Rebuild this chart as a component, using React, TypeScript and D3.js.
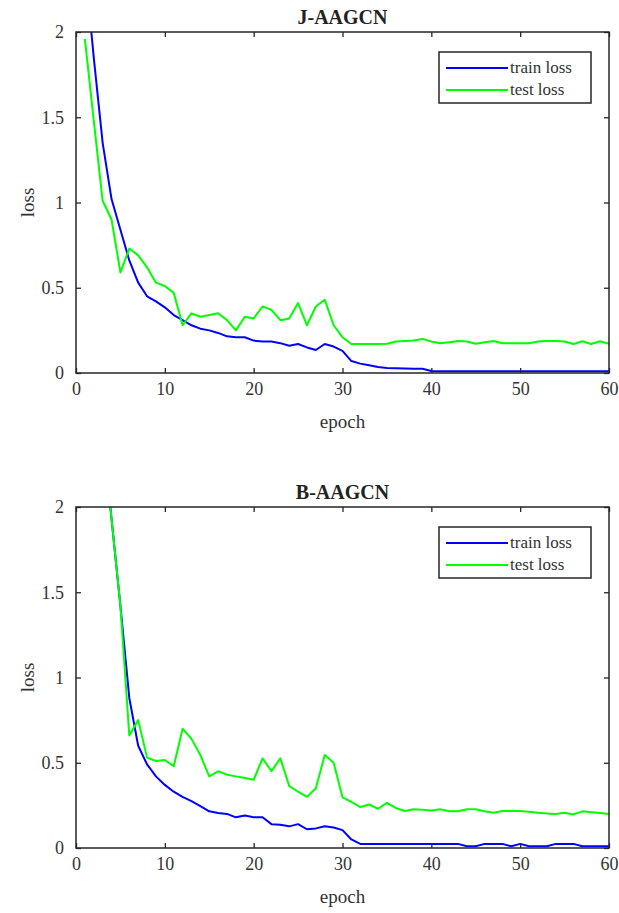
import React, { useRef, useEffect } from 'react';
import * as d3 from 'd3';

const epochs = d3.range(1, 61);

const jTrain = [
  2.4, 1.85, 1.35, 1.02, 0.84, 0.66, 0.53, 0.45, 0.42, 0.385,
  0.34, 0.31, 0.28, 0.26, 0.25, 0.235, 0.215, 0.21, 0.21, 0.19,
  0.185, 0.185, 0.175, 0.16, 0.17, 0.15, 0.135, 0.17, 0.155, 0.13,
  0.07, 0.055, 0.045, 0.035, 0.03, 0.028, 0.026, 0.025, 0.025, 0.012,
  0.01, 0.01, 0.01, 0.01, 0.01, 0.01, 0.01, 0.01, 0.01, 0.01,
  0.01, 0.01, 0.01, 0.01, 0.01, 0.01, 0.01, 0.01, 0.01, 0.01,
];
const jTest = [
  1.96, 1.48, 1.01, 0.9, 0.59, 0.73, 0.69, 0.62, 0.53, 0.51,
  0.47, 0.28, 0.35, 0.33, 0.34, 0.35, 0.31, 0.25, 0.33, 0.32,
  0.39, 0.37, 0.31, 0.32, 0.41, 0.28, 0.39, 0.43, 0.28, 0.21,
  0.17, 0.17, 0.17, 0.17, 0.172, 0.185, 0.188, 0.19, 0.2, 0.185,
  0.174, 0.18, 0.188, 0.185, 0.172, 0.18, 0.188, 0.175, 0.174, 0.174,
  0.174, 0.185, 0.188, 0.188, 0.185, 0.17, 0.186, 0.17, 0.186, 0.172,
];
const bTrain = [
  3.6, 3.0, 2.45, 1.93, 1.42, 0.88, 0.6, 0.49, 0.42, 0.37,
  0.33, 0.3, 0.275, 0.245, 0.215, 0.205, 0.2, 0.18, 0.19, 0.18,
  0.18, 0.14, 0.136, 0.127, 0.14, 0.11, 0.115, 0.127, 0.12, 0.105,
  0.05, 0.024, 0.024, 0.024, 0.024, 0.024, 0.024, 0.024, 0.024, 0.024,
  0.024, 0.024, 0.024, 0.01, 0.01, 0.024, 0.024, 0.024, 0.01, 0.024,
  0.01, 0.01, 0.01, 0.024, 0.024, 0.024, 0.01, 0.01, 0.01, 0.01,
];
const bTest = [
  3.6, 3.0, 2.45, 1.93, 1.42, 0.66, 0.75, 0.53, 0.51, 0.516,
  0.48, 0.7, 0.64, 0.545, 0.42, 0.45, 0.43, 0.42, 0.41, 0.4,
  0.526, 0.45, 0.526, 0.364, 0.33, 0.3, 0.35, 0.545, 0.5, 0.297,
  0.27, 0.24, 0.255, 0.23, 0.265, 0.235, 0.217, 0.227, 0.225, 0.22,
  0.227, 0.215, 0.215, 0.227, 0.227, 0.215, 0.207, 0.217, 0.217, 0.217,
  0.213, 0.207, 0.203, 0.2, 0.207, 0.197, 0.215, 0.21, 0.205, 0.2,
];

const xTicks = [0, 10, 20, 30, 40, 50, 60];
const yTicks = [0, 0.5, 1, 1.5, 2];
const legendLabels = ['train loss', 'test loss'];

const font = '"Liberation Serif", "Times New Roman", serif';
const axisColor = '#262626';
const colors = ['#0000ff', '#00ff00'];

const W = 619, H = 913;
const left = 76, right = 609, plotH = 341;

function drawPanel(svg: any, id: string, top: number, title: string, series: number[][]) {
  const x = d3.scaleLinear().domain([0, 60]).range([left, right]);
  const y = d3.scaleLinear().domain([0, 2]).range([top + plotH, top]);

  const g = svg.append('g');

  g.append('clipPath').attr('id', id)
    .append('rect').attr('x', left).attr('y', top).attr('width', right - left).attr('height', plotH);

  const line = d3.line<number>().x((d, i) => x(epochs[i])).y(d => y(d));
  const lines = g.append('g').attr('clip-path', `url(#${id})`);
  series.forEach((s, i) => {
    lines.append('path').datum(s)
      .attr('d', line)
      .attr('fill', 'none')
      .attr('stroke', colors[i])
      .attr('stroke-width', 2)
      .attr('stroke-linejoin', 'round');
  });

  const styleAxis = (a: any) => {
    a.select('.domain').remove();
    a.selectAll('.tick line').attr('stroke', axisColor).attr('stroke-width', 1.3);
    a.selectAll('.tick text').attr('fill', '#333').attr('font-family', font).attr('font-size', 18);
  };

  g.append('g').attr('transform', `translate(0,${top + plotH})`)
    .call(d3.axisBottom(x).tickValues(xTicks).tickSizeInner(-5).tickSizeOuter(0).tickPadding(9))
    .call(styleAxis);
  g.append('g').attr('transform', `translate(0,${top})`)
    .call(d3.axisTop(x).tickValues(xTicks).tickSizeInner(-5).tickSizeOuter(0).tickFormat(() => ''))
    .call(styleAxis);
  g.append('g').attr('transform', `translate(${left},0)`)
    .call(d3.axisLeft(y).tickValues(yTicks).tickSizeInner(-5).tickSizeOuter(0).tickPadding(12).tickFormat(d3.format('')))
    .call(styleAxis);
  g.append('g').attr('transform', `translate(${right},0)`)
    .call(d3.axisRight(y).tickValues(yTicks).tickSizeInner(-5).tickSizeOuter(0).tickFormat(() => ''))
    .call(styleAxis);

  g.append('rect')
    .attr('x', left).attr('y', top).attr('width', right - left).attr('height', plotH)
    .attr('fill', 'none').attr('stroke', axisColor).attr('stroke-width', 1.5);

  g.append('text')
    .attr('x', (left + right) / 2).attr('y', top - 8)
    .attr('text-anchor', 'middle')
    .attr('font-family', font).attr('font-size', 20).attr('font-weight', 'bold')
    .attr('fill', '#222')
    .text(title);

  g.append('text')
    .attr('x', (left + right) / 2).attr('y', top + plotH + 55)
    .attr('text-anchor', 'middle')
    .attr('font-family', font).attr('font-size', 19)
    .attr('fill', '#333')
    .text('epoch');

  g.append('text')
    .attr('transform', `translate(34,${top + plotH / 2}) rotate(-90)`)
    .attr('text-anchor', 'middle')
    .attr('font-family', font).attr('font-size', 19)
    .attr('fill', '#333')
    .text('loss');

  // legend
  const lg = g.append('g').attr('transform', `translate(439,${top + 20})`);
  lg.append('rect').attr('width', 152).attr('height', 51)
    .attr('fill', 'white').attr('stroke', axisColor).attr('stroke-width', 1.5);
  legendLabels.forEach((lab, i) => {
    const ly = 16 + i * 22;
    lg.append('line').attr('x1', 7).attr('x2', 69).attr('y1', ly).attr('y2', ly)
      .attr('stroke', colors[i]).attr('stroke-width', 2);
    lg.append('text').attr('x', 71).attr('y', ly + 5)
      .attr('font-family', font).attr('font-size', 17).attr('fill', '#333')
      .text(lab);
  });
}

export default function App() {
  const ref = useRef<SVGSVGElement>(null);

  useEffect(() => {
    const svg = d3.select(ref.current);
    svg.selectAll('*').remove();
    drawPanel(svg, 'clipJ', 32, 'J-AAGCN', [jTrain, jTest]);
    drawPanel(svg, 'clipB', 507, 'B-AAGCN', [bTrain, bTest]);
  }, []);

  return (
    <div style={{ position: 'absolute', left: 0, top: 0 }}>
      <svg ref={ref} width={W} height={H} style={{ display: 'block', background: 'white' }} />
    </div>
  );
}
